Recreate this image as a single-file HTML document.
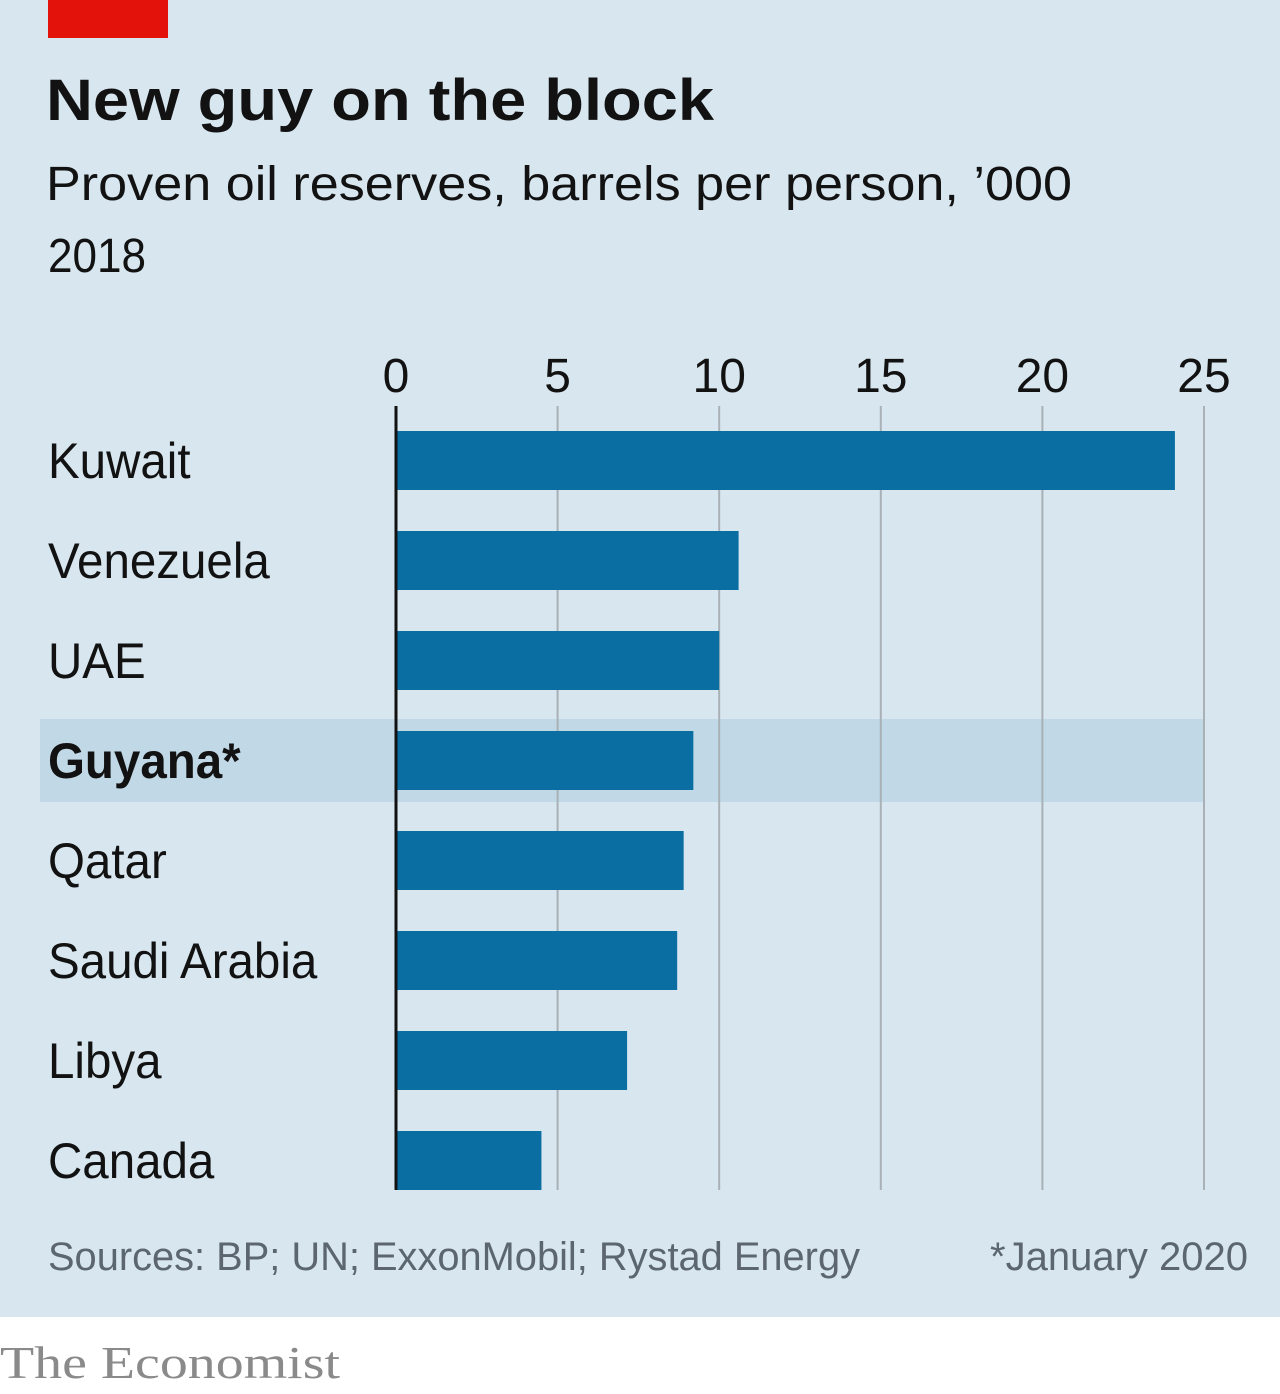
<!DOCTYPE html>
<html><head><meta charset="utf-8"><style>
body{margin:0;width:1280px;height:1394px;background:#fff;font-family:"Liberation Sans",sans-serif;overflow:hidden}
#panel{position:absolute;left:0;top:0;width:1280px;height:1317px;background:#d7e6ef}
svg{position:absolute;left:0;top:0}
</style></head><body>
<div id="panel"></div>
<svg width="1280" height="1394">
<rect x="48" y="0" width="120" height="38" fill="#e3120b"/>
<text x="46" y="120" font-size="58" font-weight="bold" fill="#121212" textLength="668" lengthAdjust="spacingAndGlyphs">New guy on the block</text>
<text x="46" y="200" font-size="48" fill="#121212" textLength="1026" lengthAdjust="spacingAndGlyphs">Proven oil reserves, barrels per person, ’000</text>
<text x="48" y="272" font-size="48" fill="#121212" textLength="98" lengthAdjust="spacingAndGlyphs">2018</text>
<rect x="40" y="719" width="1164" height="83" fill="#c1d9e6"/>
<g id="grid"></g><g id="bars"></g><g id="labels"></g>
<line x1="396" y1="406" x2="396" y2="1190" stroke="#121212" stroke-width="3"/>
<text x="48" y="1270" font-size="40" fill="#5c6670" textLength="812" lengthAdjust="spacingAndGlyphs">Sources: BP; UN; ExxonMobil; Rystad Energy</text>
<text x="1248" y="1270" font-size="40" fill="#5c6670" text-anchor="end" textLength="258" lengthAdjust="spacingAndGlyphs">*January 2020</text>
<text x="0" y="1378" font-size="46" fill="#8a8a8a" font-family="Liberation Serif,serif" textLength="340" lengthAdjust="spacingAndGlyphs">The Economist</text>
</svg>
<script>
const categories=["Kuwait","Venezuela","UAE","Guyana*","Qatar","Saudi Arabia","Libya","Canada"];
const values=[24.1,10.6,10.0,9.2,8.9,8.7,7.15,4.5];
const ticks=[0,5,10,15,20,25];
const NS="http://www.w3.org/2000/svg";
const x=v=>396+v*(1204-396)/25;
const y=i=>431+i*100;
function mk(t,a,p){const e=document.createElementNS(NS,t);for(const k in a)e.setAttribute(k,a[k]);document.getElementById(p).appendChild(e);return e;}
ticks.forEach(t=>{
  if(t>0){const l=mk("line",{x1:x(t),x2:x(t),y1:406,y2:1190,stroke:"#a9b1b6","stroke-width":2},"grid");
  
  }
  const tx=mk("text",{x:x(t),y:392,"font-size":48,fill:"#121212","text-anchor":"middle"},"grid");
  tx.textContent=t;
  
  
});
categories.forEach((c,i)=>{
  const r=mk("rect",{x:397,y:y(i),width:x(values[i])-397,height:59,fill:"#0b6ea2"},"bars");
  
  
  const t=mk("text",{x:48,y:y(i)+47,"font-size":50,fill:"#121212","font-weight":c==="Guyana*"?"bold":"normal",transform:"translate(48 0) scale(0.95 1) translate(-48 0)"},"labels");
  t.textContent=c;
  
  
});
</script>
</body></html>
